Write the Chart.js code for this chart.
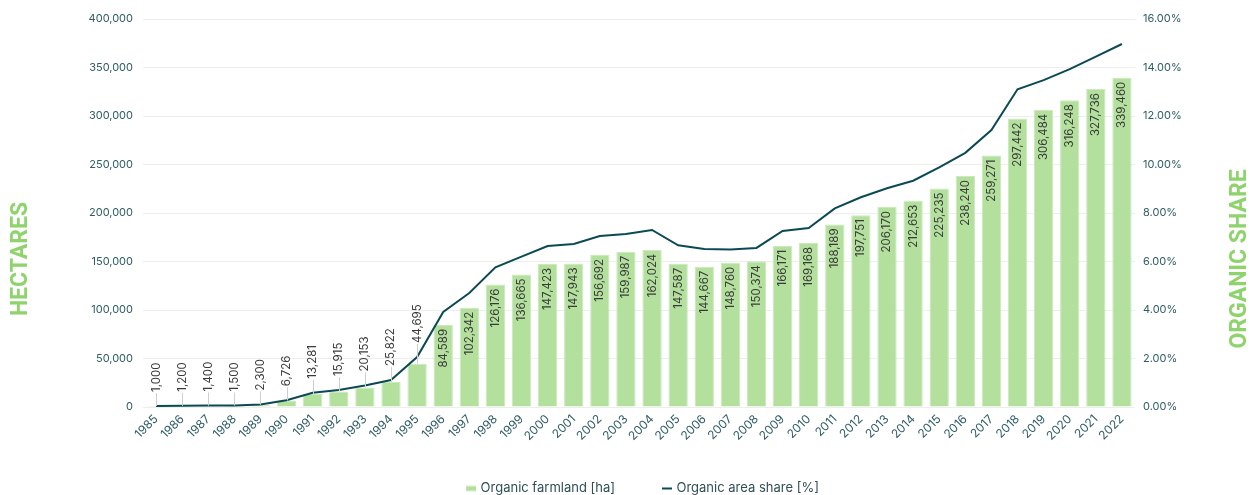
<!DOCTYPE html>
<html>
<head>
<meta charset="utf-8">
<script src="https://cdn.jsdelivr.net/npm/chart.js@4/dist/chart.umd.min.js"></script>
<style>
  html, body { margin: 0; padding: 0; background: #ffffff; }
  #wrap { width: 1253px; height: 495px; position: relative; }
</style>
</head>
<body>
<div id="wrap"><canvas id="c"></canvas></div>
<script>
const years = ['1985','1986','1987','1988','1989','1990','1991','1992','1993','1994','1995','1996','1997','1998','1999','2000','2001','2002','2003','2004','2005','2006','2007','2008','2009','2010','2011','2012','2013','2014','2015','2016','2017','2018','2019','2020','2021','2022'];
const hectares = [1000,1200,1400,1500,2300,6726,13281,15915,20153,25822,44695,84589,102342,126176,136665,147423,147943,156692,159987,162024,147587,144667,148760,150374,166171,169168,188189,197751,206170,212653,225235,238240,259271,297442,306484,316248,327736,339460];
const sharePct = [0.04,0.05,0.06,0.06,0.10,0.28,0.59,0.70,0.89,1.11,2.06,3.92,4.70,5.76,6.20,6.64,6.72,7.05,7.13,7.30,6.67,6.52,6.49,6.56,7.26,7.38,8.19,8.65,9.02,9.33,9.88,10.48,11.42,13.10,13.48,13.93,14.45,14.97];
const seriesNames = ['Organic farmland [ha]', 'Organic area share [%]'];
const axisTitles = ['HECTARES', 'ORGANIC SHARE'];

const FONT = 'Inter, "Noto Sans", sans-serif';
const TICK_COLOR = '#2f5d66';
const BAR_COLOR = '#b4e09e';
const BAR_BORDER = '#cbeabc';
const LINE_COLOR = '#0b4a55';
const TITLE_COLOR = '#8ed36c';

const fmt = v => v.toLocaleString('en-US');

function makeMarker(kind) {
  const c = document.createElement('canvas');
  c.width = 48; c.height = 8;
  const g = c.getContext('2d');
  if (kind === 'bar') { g.fillStyle = BAR_COLOR; g.fillRect(36, 1.5, 10, 5); }
  else { g.fillStyle = LINE_COLOR; g.fillRect(36, 3, 10, 2); }
  return c;
}
const markers = [makeMarker('bar'), makeMarker('line')];

const axisTitlePlugin = {
  id: 'axisTitles',
  afterDraw(chart) {
    const ctx = chart.ctx;
    ctx.save();
    ctx.fillStyle = TITLE_COLOR;
    ctx.font = 'bold 23px Roboto, "DejaVu Sans", sans-serif';
    ctx.textAlign = 'center';
    ctx.textBaseline = 'middle';
    const cy = 259;
    ctx.save(); ctx.translate(21, cy); ctx.rotate(-Math.PI / 2); ctx.fillText(axisTitles[0], 0, 0); ctx.restore();
    ctx.save(); ctx.translate(1240, cy); ctx.rotate(-Math.PI / 2); ctx.fillText(axisTitles[1], 0, 0); ctx.restore();
    ctx.restore();
  }
};

const barLabelPlugin = {
  id: 'barLabels',
  afterDatasetsDraw(chart) {
    const ctx = chart.ctx;
    const barMeta = chart.getDatasetMeta(0);
    const lineMeta = chart.getDatasetMeta(1);
    ctx.save();
    ctx.font = '11.5px ' + FONT;
    ctx.fillStyle = '#3a3a3a';
    ctx.textBaseline = 'middle';
    barMeta.data.forEach((bar, i) => {
      const txt = fmt(hectares[i]);
      const w = ctx.measureText(txt).width;
      const h = bar.base - bar.y;
      if (h > w + 10) {
        ctx.save();
        ctx.translate(bar.x, bar.y + 4);
        ctx.rotate(-Math.PI / 2);
        ctx.textAlign = 'right';
        ctx.fillText(txt, 0, 0);
        ctx.restore();
      } else {
        const ly = lineMeta.data[i] ? lineMeta.data[i].y : bar.y;
        const start = Math.min(bar.y, ly) - 13;
        ctx.save();
        ctx.strokeStyle = '#cfcfcf';
        ctx.lineWidth = 1;
        ctx.beginPath();
        ctx.moveTo(Math.round(bar.x) + 0.5, bar.y);
        ctx.lineTo(Math.round(bar.x) + 0.5, start);
        ctx.stroke();
        ctx.restore();
        ctx.save();
        ctx.translate(bar.x, start - 1);
        ctx.rotate(-Math.PI / 2);
        ctx.textAlign = 'left';
        ctx.fillText(txt, 0, 0);
        ctx.restore();
      }
    });
    ctx.restore();
  }
};

new Chart(document.getElementById('c'), {
  data: {
    labels: years,
    datasets: [
      {
        type: 'bar',
        label: seriesNames[0],
        data: hectares,
        yAxisID: 'y',
        backgroundColor: BAR_COLOR,
        borderColor: BAR_BORDER,
        borderWidth: 1,
        barPercentage: 0.74,
        categoryPercentage: 1.0,
        order: 2,
        pointStyle: markers[0]
      },
      {
        type: 'line',
        label: seriesNames[1],
        data: sharePct,
        yAxisID: 'y1',
        borderColor: LINE_COLOR,
        backgroundColor: LINE_COLOR,
        borderWidth: 2,
        pointRadius: 0,
        tension: 0,
        order: 1,
        pointStyle: markers[1]
      }
    ]
  },
  options: {
    responsive: true,
    maintainAspectRatio: false,
    animation: false,
    layout: { padding: { top: 19, bottom: -10, left: 0, right: 0 } },
    plugins: {
      legend: {
        position: 'bottom',
        labels: {
          usePointStyle: true,
          pointStyleWidth: 40,
          padding: 15,
          color: '#2f4f55',
          font: { family: FONT, size: 13 },
          sort: (a, b) => a.datasetIndex - b.datasetIndex
        }
      },
      tooltip: { enabled: false }
    },
    scales: {
      x: {
        grid: { display: false, drawTicks: false },
        border: { display: false },
        ticks: {
          color: TICK_COLOR,
          font: { family: FONT, size: 12 },
          minRotation: 45, maxRotation: 45,
          autoSkip: false,
          padding: 5
        },
        afterFit: s => { s.height = 60; }
      },
      y: {
        position: 'left',
        min: 0, max: 400000,
        ticks: {
          stepSize: 50000,
          color: TICK_COLOR,
          font: { family: FONT, size: 11 },
          padding: 10,
          callback: v => fmt(v)
        },
        grid: { color: '#eeeeee', drawTicks: false },
        border: { display: false },
        afterFit: s => { s.width = 143; }
      },
      y1: {
        position: 'right',
        min: 0, max: 16,
        ticks: {
          stepSize: 2,
          color: TICK_COLOR,
          font: { family: FONT, size: 11 },
          padding: 8,
          callback: v => v.toFixed(2) + '%'
        },
        grid: { display: false, drawTicks: false },
        border: { display: false },
        afterFit: s => { s.width = 118; }
      }
    }
  },
  plugins: [barLabelPlugin, axisTitlePlugin]
});
</script>
</body>
</html>
